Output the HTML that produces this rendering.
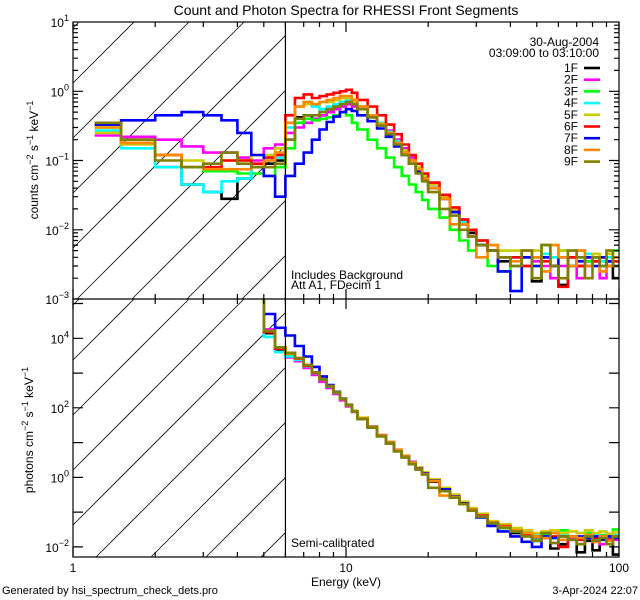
<!DOCTYPE html>
<html><head><meta charset="utf-8"><style>
html,body{margin:0;padding:0;background:#fff;width:640px;height:600px;overflow:hidden;}
svg{display:block;font-family:"Liberation Sans",sans-serif;}
</style></head><body>
<svg id="chart" width="640" height="600" xmlns="http://www.w3.org/2000/svg">
<defs>
<clipPath id="cTop"><rect x="73" y="22" width="546" height="277"/></clipPath>
<clipPath id="cBot"><rect x="73" y="299" width="546" height="258"/></clipPath>
</defs>
<text x="346" y="15" font-size="14" text-anchor="middle">Count and Photon Spectra for RHESSI Front Segments</text>
<g id="hatch" stroke="#000" stroke-width="0.8"></g>
<g id="series"></g>
<g id="axes" stroke="#000" stroke-width="1.2" fill="none"></g>
<g id="labels" font-size="12"></g>
<text transform="translate(38,160) rotate(-90)" font-size="12" text-anchor="middle">counts cm<tspan dy="-5" font-size="9">−2</tspan><tspan dy="5"> s</tspan><tspan dy="-5" font-size="9">−1</tspan><tspan dy="5"> keV</tspan><tspan dy="-5" font-size="9">−1</tspan></text>
<text transform="translate(33,430) rotate(-90)" font-size="12" text-anchor="middle">photons cm<tspan dy="-5" font-size="9">−2</tspan><tspan dy="5"> s</tspan><tspan dy="-5" font-size="9">−1</tspan><tspan dy="5"> keV</tspan><tspan dy="-5" font-size="9">−1</tspan></text>
<text x="346" y="586" font-size="12" text-anchor="middle">Energy (keV)</text>
<text x="291" y="279" font-size="12">Includes Background</text>
<text x="291" y="289" font-size="12">Att A1, FDecim 1</text>
<text x="291" y="547" font-size="12">Semi-calibrated</text>
<text x="2" y="594" font-size="11">Generated by hsi_spectrum_check_dets.pro</text>
<text x="638" y="594" font-size="11" text-anchor="end">3-Apr-2024 22:07</text>
<text x="599" y="46" font-size="12" text-anchor="end">30-Aug-2004</text>
<text x="599" y="57" font-size="12" text-anchor="end">03:09:00 to 03:10:00</text>
<g id="legend"></g>
</svg>
<script>
const edges=[1.2,1.5,2,2.5,3,3.5,4,4.5,5,5.5,6,6.5,7,7.5,8,8.5,9,9.5,10,10.5,11,12,13,14,15,16,17,18,19,20,22,24,26,28,30,33,36,40,44,48,52,56,60,65,70,75,80,85,90,95,100];
const names=["1F","2F","3F","4F","5F","6F","7F","8F","9F"];
const colors=["#000000","#ff00ff","#00ff00","#00ffff","#cccc00","#ff0000","#0000ff","#ff8800","#808000"];
const xTicks=[1,10,100];
const xTickLabels=["1","10","100"];
const topYTicks=[-3,-2,-1,0,1];
const botYLabelExps=[-2,0,2,4];
const c1=[0.35,0.2,0.08,0.045,0.035,0.028,0.055,0.08,0.09,0.1,0.2,0.42,0.45,0.4,0.45,0.5,0.6,0.7,0.72,0.65,0.55,0.42,0.32,0.24,0.17,0.13,0.1,0.075,0.055,0.04,0.028,0.018,0.012,0.009,0.006,0.005,0.0035,0.004,0.003,0.0018,0.004,0.003,0.0016,0.004,0.003,0.0035,0.004,0.003,0.0035,0.002];
const c2=[0.23,0.22,0.2,0.16,0.13,0.13,0.11,0.1,0.15,0.17,0.25,0.3,0.35,0.4,0.45,0.5,0.55,0.6,0.65,0.6,0.55,0.45,0.35,0.27,0.2,0.15,0.11,0.08,0.06,0.045,0.03,0.02,0.014,0.01,0.007,0.005,0.004,0.003,0.004,0.0035,0.003,0.002,0.003,0.004,0.002,0.003,0.0035,0.002,0.003,0.004];
const c3=[0.3,0.18,0.12,0.08,0.07,0.07,0.065,0.065,0.06,0.08,0.15,0.35,0.4,0.38,0.4,0.42,0.45,0.5,0.45,0.35,0.28,0.2,0.15,0.11,0.08,0.06,0.045,0.035,0.027,0.02,0.015,0.01,0.007,0.005,0.004,0.003,0.0025,0.003,0.004,0.003,0.006,0.004,0.005,0.003,0.004,0.0035,0.004,0.003,0.0035,0.005];
const c4=[0.27,0.15,0.08,0.045,0.035,0.05,0.055,0.09,0.1,0.11,0.3,0.6,0.7,0.6,0.55,0.6,0.65,0.7,0.75,0.7,0.6,0.45,0.35,0.26,0.19,0.14,0.1,0.08,0.06,0.045,0.03,0.02,0.013,0.01,0.007,0.005,0.004,0.004,0.005,0.004,0.0045,0.004,0.005,0.004,0.004,0.0045,0.004,0.0035,0.004,0.0035];
const c5=[0.25,0.17,0.12,0.1,0.09,0.1,0.1,0.12,0.12,0.15,0.35,0.6,0.65,0.65,0.7,0.7,0.75,0.8,0.8,0.7,0.6,0.45,0.34,0.25,0.18,0.14,0.1,0.08,0.06,0.045,0.03,0.02,0.014,0.01,0.007,0.006,0.005,0.005,0.004,0.005,0.004,0.006,0.005,0.004,0.005,0.004,0.0045,0.004,0.0045,0.004];
const c6=[0.33,0.18,0.12,0.08,0.08,0.1,0.1,0.09,0.11,0.12,0.45,0.8,0.9,0.8,0.85,0.9,0.95,1.0,1.05,0.95,0.75,0.6,0.45,0.33,0.24,0.17,0.12,0.09,0.065,0.048,0.032,0.021,0.014,0.01,0.007,0.005,0.004,0.004,0.003,0.004,0.0035,0.003,0.0015,0.004,0.003,0.004,0.0035,0.004,0.003,0.0035];
const c7=[0.33,0.38,0.45,0.5,0.45,0.38,0.25,0.12,0.06,0.03,0.06,0.09,0.13,0.2,0.28,0.36,0.43,0.5,0.55,0.52,0.45,0.37,0.29,0.22,0.16,0.12,0.09,0.07,0.055,0.04,0.028,0.018,0.012,0.008,0.006,0.005,0.0025,0.0013,0.004,0.003,0.004,0.003,0.004,0.003,0.0035,0.004,0.003,0.004,0.0035,0.003];
const c8=[0.3,0.18,0.12,0.08,0.075,0.075,0.075,0.08,0.1,0.13,0.35,0.6,0.7,0.65,0.7,0.75,0.8,0.85,0.85,0.75,0.6,0.45,0.33,0.25,0.18,0.13,0.1,0.075,0.055,0.04,0.028,0.012,0.012,0.008,0.004,0.006,0.004,0.0035,0.005,0.004,0.0025,0.006,0.004,0.003,0.005,0.003,0.004,0.0025,0.003,0.004];
const c9=[0.35,0.2,0.1,0.08,0.09,0.13,0.09,0.08,0.08,0.09,0.2,0.4,0.45,0.45,0.5,0.55,0.6,0.65,0.7,0.65,0.55,0.42,0.32,0.24,0.17,0.12,0.09,0.065,0.05,0.035,0.02,0.016,0.01,0.008,0.006,0.005,0.004,0.003,0.005,0.002,0.006,0.003,0.002,0.005,0.004,0.002,0.004,0.003,0.005,0.003];
const N=null;
const p1=[N,N,N,N,N,N,N,1e6,1.4e4,4.5e3,3e3,2.3e3,1.5e3,950,620,400,270,175,115,78,48,27,15.5,9.5,5.8,3.9,2.5,1.7,1.25,0.75,0.42,0.26,0.17,0.11,0.075,0.045,0.035,0.025,0.022,0.015,0.02,0.009,0.012,0.018,0.007,0.015,0.008,0.016,0.012,0.006];
const p2=[N,N,N,N,N,N,N,1e6,1.8e4,5.5e3,2.8e3,2.2e3,1.4e3,880,560,370,250,165,110,76,50,29,16.5,10.5,6.3,4.2,2.8,1.9,1.35,0.85,0.47,0.3,0.19,0.12,0.08,0.05,0.038,0.03,0.022,0.017,0.02,0.013,0.016,0.018,0.012,0.02,0.014,0.012,0.018,0.016];
const p3=[N,N,N,N,N,N,N,1e6,1.5e4,5e3,3.4e3,2.5e3,1.6e3,1e3,640,410,275,178,118,79,49,27,15.5,9.8,5.9,3.9,2.6,1.8,1.3,0.8,0.44,0.27,0.17,0.11,0.075,0.045,0.035,0.028,0.02,0.016,0.022,0.018,0.03,0.02,0.016,0.025,0.018,0.022,0.02,0.032];
const p4=[N,N,N,N,N,N,N,1e6,1.1e4,4e3,3e3,2.4e3,1.55e3,980,640,415,278,178,118,80,50,28,16,10,6,4,2.6,1.8,1.3,0.82,0.46,0.29,0.19,0.13,0.085,0.052,0.04,0.03,0.026,0.022,0.02,0.018,0.022,0.02,0.018,0.02,0.022,0.017,0.02,0.022];
const p5=[N,N,N,N,N,N,N,1e6,1.6e4,5.5e3,3.6e3,2.6e3,1.65e3,1.05e3,680,440,290,185,124,82,52,29,16.5,10.5,6.2,4.2,2.7,1.9,1.4,0.88,0.5,0.32,0.2,0.13,0.09,0.055,0.045,0.035,0.03,0.025,0.028,0.03,0.025,0.028,0.025,0.03,0.025,0.028,0.024,0.026];
const p6=[N,N,N,N,N,N,N,1e6,1.5e4,5e3,3.8e3,2.6e3,1.6e3,1e3,650,420,280,180,120,80,50,28,16,10,6,4,2.6,1.8,1.3,0.8,0.45,0.28,0.18,0.12,0.08,0.05,0.04,0.03,0.022,0.02,0.018,0.02,0.01,0.02,0.016,0.02,0.018,0.02,0.016,0.018];
const p7=[N,N,N,N,N,N,N,1e6,5e4,2e4,1.2e4,6e3,3e3,1.5e3,800,450,290,185,122,80,50,28,16,10,6,4,2.6,1.8,1.3,0.8,0.45,0.28,0.18,0.12,0.07,0.04,0.028,0.02,0.014,0.01,0.02,0.018,0.02,0.016,0.02,0.018,0.02,0.017,0.02,0.018];
const p8=[N,N,N,N,N,N,N,1e6,1.6e4,5.5e3,3.6e3,2.7e3,1.7e3,1.05e3,660,425,282,182,120,80,50,28,16,10,6,4,2.6,1.75,1.25,0.78,0.3,0.27,0.17,0.12,0.075,0.05,0.038,0.03,0.025,0.02,0.018,0.025,0.016,0.02,0.018,0.022,0.014,0.02,0.015,0.02];
const p9=[N,N,N,N,N,N,N,1e6,1.6e4,5.5e3,3.8e3,2.7e3,1.7e3,1.05e3,660,420,280,180,118,78,48,27,15,9.5,5.6,3.7,2.4,1.7,1.2,0.5,0.4,0.26,0.17,0.11,0.075,0.048,0.036,0.028,0.02,0.015,0.025,0.013,0.02,0.016,0.012,0.02,0.015,0.018,0.012,0.02];
const topSeries=[c1,c2,c3,c4,c5,c6,c7,c8,c9];
const botSeries=[p1,p2,p3,p4,p5,p6,p7,p8,p9];

const NS="http://www.w3.org/2000/svg";
const X0=73,X1=619;
const xs=e=>X0+(X1-X0)*Math.log10(e)/2;
const TY0=22,TY1=299,BY0=299,BY1=557;
const topMin=-3,topMax=1;
const yTop=v=>TY1-(TY1-TY0)*(Math.log10(v)-topMin)/(topMax-topMin);
const botMin=-2.29,botMax=5.13;
const yBot=v=>Math.max(BY0-2,BY1-(BY1-BY0)*(Math.log10(v)-botMin)/(botMax-botMin));
const yTopC=v=>Math.max(TY0-2,Math.min(TY1+2,yTop(v)));
function mk(tag,attrs,parent){const el=document.createElementNS(NS,tag);for(const k in attrs)el.setAttribute(k,attrs[k]);parent.appendChild(el);return el;}

const hatch=document.getElementById('hatch');
const HX=xs(6);
[[TY0,TY1,83],[BY0,BY1,360]].forEach(([a,b,c0])=>{
  for(let c=c0-55*6;c<b+260;c+=55){
    const xa=Math.max(X0,X0+c-b),xb=Math.min(HX,X0+c-a);
    if(xb<=xa)continue;
    const l=mk('line',{x1:xa,y1:c-(xa-X0),x2:xb,y2:c-(xb-X0)},hatch);
    
    
  }
});

const sg=document.getElementById('series');
function stepPath(vals,yf){
  let d='',pen=false;
  for(let i=0;i<vals.length;i++){
    const v=vals[i];
    if(v==null||v<=0){pen=false;continue;}
    const xa=xs(edges[i]).toFixed(1),xb=xs(edges[i+1]).toFixed(1),y=yf(v).toFixed(1);
    d+=(pen?'L':'M')+xa+','+y+'L'+xb+','+y;
    pen=true;
  }
  return d;
}
const gt=mk('g',{'clip-path':'url(#cTop)'},sg);
const gb=mk('g',{'clip-path':'url(#cBot)'},sg);




topSeries.forEach((s,k)=>{
  const p=mk('path',{d:stepPath(s,yTopC),stroke:colors[k],'stroke-width':2.6,fill:'none'},gt);
  
  
});
botSeries.forEach((s,k)=>{
  const p=mk('path',{d:stepPath(s,yBot),stroke:colors[k],'stroke-width':2.6,fill:'none'},gb);
  
  
});

const ax=document.getElementById('axes');
const fr=mk('rect',{x:X0,y:TY0,width:X1-X0,height:BY1-TY0},ax);


const dv=mk('line',{x1:X0,y1:TY1,x2:X1,y2:TY1},ax);


const vl=mk('line',{x1:xs(6),y1:TY0,x2:xs(6),y2:BY1},ax);


let td='';
for(let dec=0;dec<2;dec++)for(let m=1;m<=10;m++){
  const e=Math.pow(10,dec)*m; if(e>100)continue;
  const x=xs(e).toFixed(1),L=(m===1||m===10)?10:5;
  [[TY0,1],[TY1,-1],[BY0,1],[BY1,-1]].forEach(([y,s])=>{td+='M'+x+','+y+'v'+(s*L);});
}
for(let d=topMin;d<topMax;d++)for(let m=1;m<10;m++){
  const y=yTop(Math.pow(10,d)*m).toFixed(1),L=m===1?10:5;
  td+='M'+X0+','+y+'h'+L+'M'+X1+','+y+'h'+(-L);
}
for(let d=-2;d<=5;d++){const y=yBot(Math.pow(10,d)).toFixed(1);td+='M'+X0+','+y+'h10M'+X1+','+y+'h-10';}
const tp=mk('path',{d:td},ax);



const lb=document.getElementById('labels');
xTicks.forEach((e,i)=>{
  const t=mk('text',{x:xs(e),y:572,'text-anchor':'middle'},lb);t.textContent=xTickLabels[i];
  
  
});
function powLabel(y,exp,name){
  const t=mk('text',{x:X0-4,y:y+5,'text-anchor':'end'},lb);
  
  
  const a=mk('tspan',{},t);a.textContent='10';
  const b=mk('tspan',{dy:-6,'font-size':9},t);b.textContent=(exp<0?'−':'')+Math.abs(exp);
}
topYTicks.forEach(e=>powLabel(yTop(Math.pow(10,e)),e,'top-y-tick-label'));
botYLabelExps.forEach(e=>powLabel(yBot(Math.pow(10,e)),e,'bottom-y-tick-label'));

const lg=document.getElementById('legend');


names.forEach((n,k)=>{
  const y=68+k*11.7;
  const g=mk('g',{},lg);
  
  
  const t=mk('text',{x:578,y:y+4,'font-size':12,'text-anchor':'end'},g);t.textContent=n;
  mk('line',{x1:584,y1:y,x2:600,y2:y,stroke:colors[k],'stroke-width':2.6},g);
});
</script>
</body></html>
